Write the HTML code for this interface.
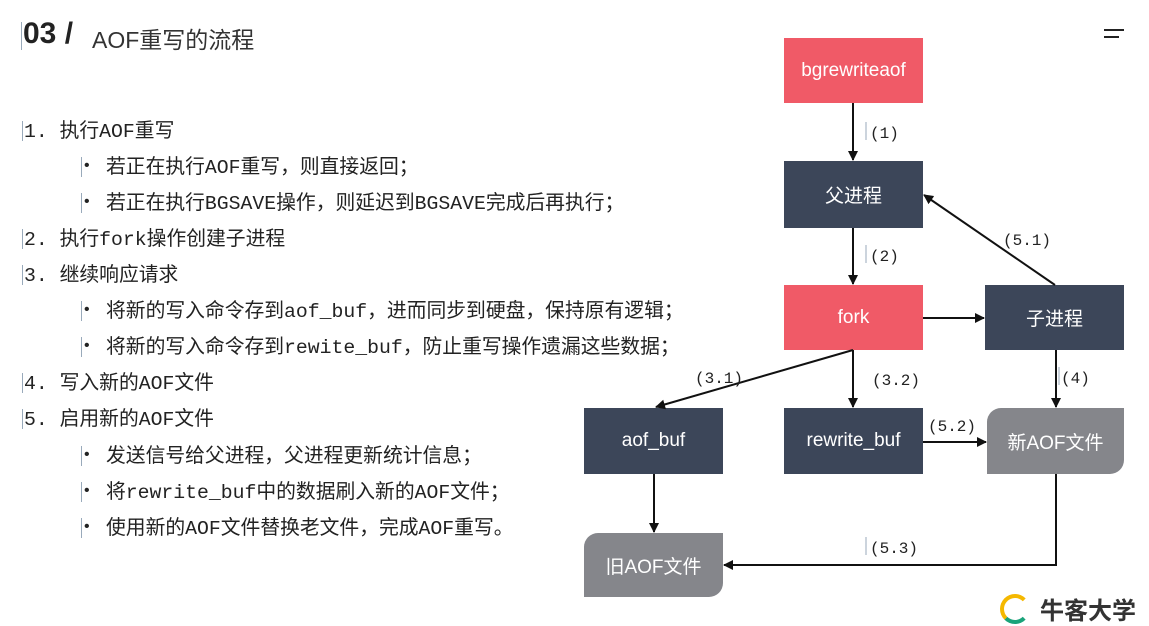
<!DOCTYPE html>
<html><head><meta charset="utf-8"><style>
body{margin:0;width:1149px;height:604px;background:#fff;position:relative;overflow:hidden;font-family:"Liberation Sans","Noto Sans CJK SC",sans-serif;}
.t{position:absolute;white-space:nowrap;}
.l{position:absolute;font-family:"Liberation Mono","Noto Sans CJK SC",monospace;font-size:19.8px;line-height:22px;color:#222;white-space:nowrap;}
.bar{position:absolute;width:1px;height:20px;background:#9ab;}
.box{position:absolute;color:#fff;font-size:19px;display:flex;align-items:center;justify-content:center;}
.r{background:#f05a67}.d{background:#3c4659}.g{background:#85868b;border-radius:14px 0 14px 0}
.b{position:absolute;font-size:16px;color:#222}
</style></head><body>
<div class="bar" style="left:21px;top:22px;height:28px"></div>
<div class="t" style="left:23px;top:17px;font-size:30px;font-weight:bold;color:#222">03 /</div>
<div class="t" style="left:92px;top:21px;font-size:23px;color:#333">AOF重写的流程</div>
<div style="position:absolute;left:1104px;top:29px;width:20px;height:2px;background:#222"></div>
<div style="position:absolute;left:1104px;top:36px;width:15px;height:2px;background:#222"></div>

<div class="bar" style="left:22px;top:121px"></div><div class="l" style="left:24px;top:121px">1. 执行AOF重写</div>
<div class="bar" style="left:81px;top:157px"></div><div class="b" style="left:84px;top:157px">•</div><div class="l" style="left:106px;top:157px">若正在执行AOF重写，则直接返回；</div>
<div class="bar" style="left:81px;top:193px"></div><div class="b" style="left:84px;top:193px">•</div><div class="l" style="left:106px;top:193px">若正在执行BGSAVE操作，则延迟到BGSAVE完成后再执行；</div>
<div class="bar" style="left:22px;top:229px"></div><div class="l" style="left:24px;top:229px">2. 执行fork操作创建子进程</div>
<div class="bar" style="left:22px;top:265px"></div><div class="l" style="left:24px;top:265px">3. 继续响应请求</div>
<div class="bar" style="left:81px;top:301px"></div><div class="b" style="left:84px;top:301px">•</div><div class="l" style="left:106px;top:301px">将新的写入命令存到aof_buf，进而同步到硬盘，保持原有逻辑；</div>
<div class="bar" style="left:81px;top:337px"></div><div class="b" style="left:84px;top:337px">•</div><div class="l" style="left:106px;top:337px">将新的写入命令存到rewite_buf，防止重写操作遗漏这些数据；</div>
<div class="bar" style="left:22px;top:373px"></div><div class="l" style="left:24px;top:373px">4. 写入新的AOF文件</div>
<div class="bar" style="left:22px;top:409px"></div><div class="l" style="left:24px;top:409px">5. 启用新的AOF文件</div>
<div class="bar" style="left:81px;top:446px"></div><div class="b" style="left:84px;top:446px">•</div><div class="l" style="left:106px;top:446px">发送信号给父进程，父进程更新统计信息；</div>
<div class="bar" style="left:81px;top:482px"></div><div class="b" style="left:84px;top:482px">•</div><div class="l" style="left:106px;top:482px">将rewrite_buf中的数据刷入新的AOF文件；</div>
<div class="bar" style="left:81px;top:518px"></div><div class="b" style="left:84px;top:518px">•</div><div class="l" style="left:106px;top:518px">使用新的AOF文件替换老文件，完成AOF重写。</div>

<div class="box r" style="left:784px;top:38px;width:139px;height:65px">bgrewriteaof</div>
<div class="box d" style="left:784px;top:161px;width:139px;height:67px">父进程</div>
<div class="box r" style="left:784px;top:285px;width:139px;height:65px">fork</div>
<div class="box d" style="left:985px;top:285px;width:139px;height:65px">子进程</div>
<div class="box d" style="left:584px;top:408px;width:139px;height:66px">aof_buf</div>
<div class="box d" style="left:784px;top:408px;width:139px;height:66px">rewrite_buf</div>
<div class="box g" style="left:987px;top:408px;width:137px;height:66px">新AOF文件</div>
<div class="box g" style="left:584px;top:533px;width:139px;height:64px">旧AOF文件</div>

<svg width="1149" height="604" style="position:absolute;left:0;top:0">
<defs><marker id="a" markerWidth="10" markerHeight="10" refX="9" refY="5" orient="auto" markerUnits="userSpaceOnUse"><path d="M0,0 L10,5 L0,10 z" fill="#111"/></marker></defs>
<g stroke="#111" stroke-width="2" fill="none" marker-end="url(#a)">
<line x1="853" y1="103" x2="853" y2="160"/>
<line x1="853" y1="228" x2="853" y2="284"/>
<line x1="923" y1="318" x2="984" y2="318"/>
<line x1="1055" y1="285" x2="924" y2="195"/>
<line x1="853" y1="350" x2="656" y2="407"/>
<line x1="853" y1="350" x2="853" y2="407"/>
<line x1="1056" y1="350" x2="1056" y2="407"/>
<line x1="923" y1="442" x2="986" y2="442"/>
<line x1="654" y1="474" x2="654" y2="532"/>
<polyline points="1056,474 1056,565 724,565"/>
</g>
<g font-family="Liberation Mono,monospace" font-size="16" fill="#222">
<text x="870" y="138">(1)</text>
<text x="870" y="261">(2)</text>
<text x="1003" y="245">(5.1)</text>
<text x="695" y="383">(3.1)</text>
<text x="872" y="385">(3.2)</text>
<text x="1061" y="383">(4)</text>
<text x="928" y="431">(5.2)</text>
<text x="870" y="553">(5.3)</text>
</g>
<g stroke="#9ab" stroke-width="1"><line x1="866" y1="122" x2="866" y2="140"/><line x1="866" y1="245" x2="866" y2="263"/><line x1="1059" y1="367" x2="1059" y2="385"/><line x1="866" y1="537" x2="866" y2="555"/></g>
</svg>
<div class="t" style="left:1040px;top:591px;font-size:24px;font-weight:bold;color:#333">牛客大学</div>
<div style="position:absolute;left:1000px;top:594px;width:22px;height:22px;border-radius:50%;border:4px solid #f5b800;border-right-color:transparent;border-bottom-color:#1aa37a"></div>
</body></html>
